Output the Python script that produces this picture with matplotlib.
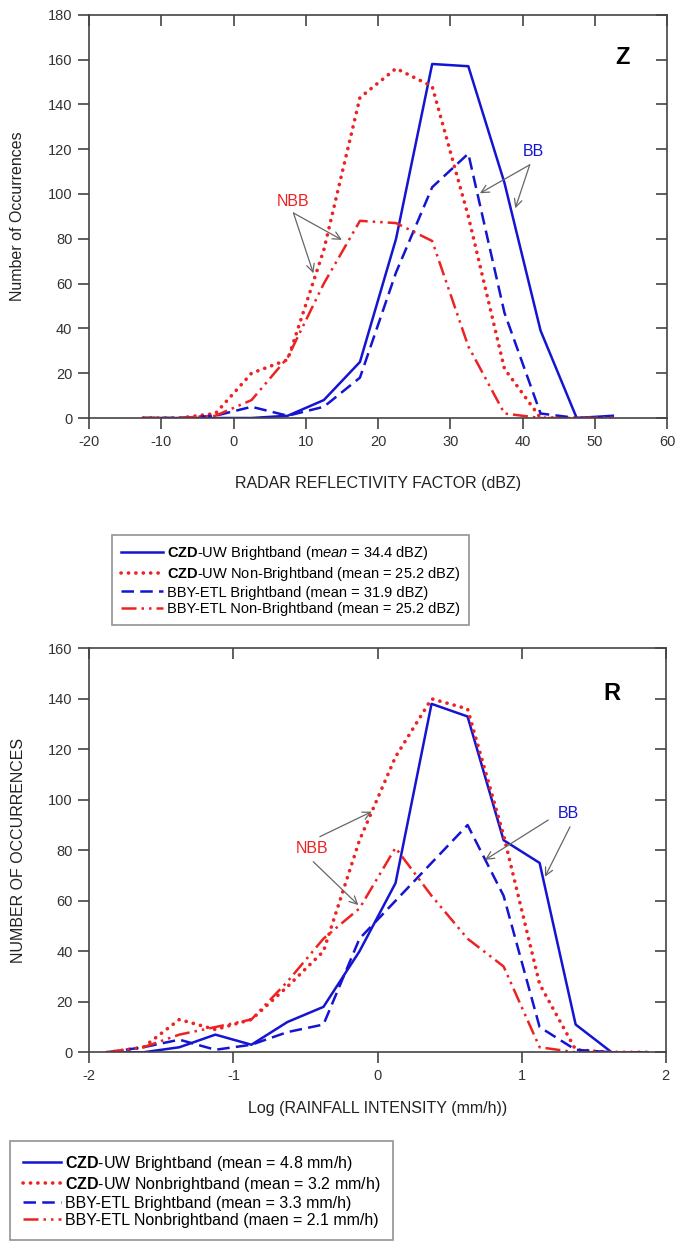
import numpy as np
import matplotlib.pyplot as plt

plt.rcParams['font.family'] = ['Liberation Sans', 'DejaVu Sans']
plt.rcParams['mathtext.fontset'] = 'custom'
plt.rcParams['mathtext.rm'] = 'Liberation Sans'
plt.rcParams['mathtext.bf'] = 'Liberation Sans:bold'
plt.rcParams['mathtext.it'] = 'Liberation Sans:italic'
plt.rcParams['axes.unicode_minus'] = False

# ---- data: reflectivity (Z) ----
z_bins = [-12.5, -7.5, -2.5, 2.5, 7.5, 12.5, 17.5, 22.5, 27.5, 32.5, 37.5, 42.5, 47.5, 52.5]
z_czd_bb = [0, 0, 0, 0, 1, 8, 25, 80, 158, 157, 105, 39, 0, 1]
z_czd_nbb = [0, 0, 2, 20, 26, 75, 143, 156, 148, 90, 22, 0, 0, 0]
z_bby_bb = [0, 0, 1, 5, 1, 5, 18, 65, 103, 118, 47, 2, 0, 0]
z_bby_nbb = [0, 0, 1, 8, 27, 60, 88, 87, 79, 32, 2, 0, 0, 0]

# ---- data: rainfall (R) ----
r_bins = [-1.875, -1.625, -1.375, -1.125, -0.875, -0.625, -0.375, -0.125,
          0.125, 0.375, 0.625, 0.875, 1.125, 1.375, 1.625, 1.875]
r_czd_bb = [0, 0, 2, 7, 3, 12, 18, 40, 67, 138, 133, 84, 75, 11, 0, 0]
r_czd_nbb = [0, 2, 13, 9, 13, 26, 40, 84, 117, 140, 136, 86, 27, 1, 0, 0]
r_bby_bb = [0, 2, 5, 1, 3, 8, 11, 45, 60, 75, 90, 62, 10, 1, 0, 0]
r_bby_nbb = [0, 2, 7, 10, 13, 28, 45, 57, 81, 62, 45, 34, 2, 0, 0, 0]

z_labels = [r'$\mathbf{CZD}$-UW Brightband (m$\mathit{ean}$ = 34.4 dBZ$\mathit{)}$',
            r'$\mathbf{CZD}$-UW Non-Brightband (mean = 25.2 dBZ)',
            'BBY-ETL Brightband (mean = 31.9 dBZ)',
            'BBY-ETL Non-Brightband (mean = 25.2 dBZ)']
r_labels = [r'$\mathbf{CZD}$-UW Brightband (mean = 4.8 mm/h)',
            r'$\mathbf{CZD}$-UW Nonbrightband (mean = 3.2 mm/h)',
            'BBY-ETL Brightband (mean = 3.3 mm/h)',
            'BBY-ETL Nonbrightband (maen = 2.1 mm/h)']

blue = '#1414d2'
red = '#ee2222'
grey = '#444444'
styles = [dict(color=blue, lw=1.8, ls='-'),
          dict(color=red, lw=2.6, ls=(0, (0.05, 2.0)), dash_capstyle='round'),
          dict(color=blue, lw=1.8, ls=(0, (5, 2.5))),
          dict(color=red, lw=1.8, ls=(0, (6, 2, 1, 2, 1, 2)))]

W, H = 677, 1241
fig = plt.figure(figsize=(W / 100, H / 100), dpi=100)


def frame(ax, xt, yt):
    for s in ax.spines.values():
        s.set_color(grey)
        s.set_linewidth(1.2)
    ax.set_xticks(xt)
    ax.set_yticks(yt)
    ax.tick_params(direction='out', length=8, width=1.2, color=grey,
                   labelsize=10.5, labelcolor='#333333', pad=4)
    top = ax.secondary_xaxis('top')
    top.set_xticks(xt)
    top.tick_params(direction='in', length=8, width=1.2, color=grey, labeltop=False)
    top.spines['top'].set_visible(False)
    right = ax.secondary_yaxis('right')
    right.set_yticks(yt)
    right.tick_params(direction='in', length=8, width=1.2, color=grey, labelright=False)
    right.spines['right'].set_visible(False)


def arrow(ax, text_xy, tip):
    ax.annotate('', xy=tip, xytext=text_xy,
                arrowprops=dict(arrowstyle='->', color='#666666', lw=0.9,
                                shrinkA=0, shrinkB=0, mutation_scale=14))


def box(leg):
    leg.get_frame().set_edgecolor('#777777')
    leg.get_frame().set_linewidth(1.2)


# ---------- Z panel ----------
ax1 = fig.add_axes([89 / W, 1 - 418 / H, 578 / W, 403.3 / H])
series = [z_czd_bb, z_czd_nbb, z_bby_bb, z_bby_nbb]
handles = []
for ys, st, lab in zip(series, styles, z_labels):
    h, = ax1.plot(z_bins, ys, label=lab, **st)
    handles.append(h)
ax1.set_xlim(-20, 60)
ax1.set_ylim(0, 180)
frame(ax1, np.arange(-20, 61, 10), np.arange(0, 181, 20))
ax1.set_xlabel('RADAR REFLECTIVITY FACTOR (dBZ)', fontsize=11.5, color='#222222', labelpad=20)
ax1.set_ylabel('Number of Occurrences', fontsize=11.5, color='#222222', labelpad=16)
ax1.text(53.9, 160.7, 'Z', fontsize=17, fontweight='bold', ha='center', va='center')
ax1.text(8.3, 96.6, 'NBB', color=red, fontsize=11.5, ha='center', va='center')
arrow(ax1, (8.3, 91.5), (15.0, 79.5))
arrow(ax1, (8.3, 91.5), (11.05, 64.6))
ax1.text(41.5, 118.9, 'BB', color=blue, fontsize=11.5, ha='center', va='center')
arrow(ax1, (41.0, 113), (34.1, 100.3))
arrow(ax1, (41.0, 113), (39.0, 93.6))

leg1 = fig.legend(handles=handles, loc='upper left', bbox_to_anchor=(112 / W, 1 - 535 / H),
                  fontsize=10.5, frameon=True, fancybox=False, handlelength=2.9,
                  handletextpad=0.3, labelspacing=0.2, borderpad=0.6, borderaxespad=0)
box(leg1)

# ---------- R panel ----------
ax2 = fig.add_axes([89.3 / W, 1 - 1052.3 / H, 576.4 / W, 404 / H])
series = [r_czd_bb, r_czd_nbb, r_bby_bb, r_bby_nbb]
handles = []
for ys, st, lab in zip(series, styles, r_labels):
    h, = ax2.plot(r_bins, ys, label=lab, **st)
    handles.append(h)
ax2.set_xlim(-2, 2)
ax2.set_ylim(0, 160)
frame(ax2, np.arange(-2, 3, 1), np.arange(0, 161, 20))
ax2.set_xlabel('Log (RAINFALL INTENSITY (mm/h))', fontsize=11.5, color='#222222', labelpad=13)
ax2.set_ylabel('NUMBER OF OCCURRENCES', fontsize=11.5, color='#222222', labelpad=16)
ax2.text(1.625, 142.2, 'R', fontsize=17, fontweight='bold', ha='center', va='center')
ax2.text(-0.457, 80.8, 'NBB', color=red, fontsize=11.5, ha='center', va='center')
arrow(ax2, (-0.40, 85.4), (-0.04, 95.3))
arrow(ax2, (-0.446, 75.5), (-0.133, 58.3))
ax2.text(1.324, 94.7, 'BB', color=blue, fontsize=11.5, ha='center', va='center')
arrow(ax2, (1.185, 92), (0.746, 76.2))
arrow(ax2, (1.336, 89.3), (1.162, 69.5))

leg2 = fig.legend(handles=handles, loc='upper left', bbox_to_anchor=(10 / W, 1 - 1141 / H),
                  fontsize=11.5, frameon=True, fancybox=False, handlelength=2.4,
                  handletextpad=0.25, labelspacing=0.12, borderpad=0.8, borderaxespad=0)
box(leg2)

fig.savefig('out.png', dpi=100)
